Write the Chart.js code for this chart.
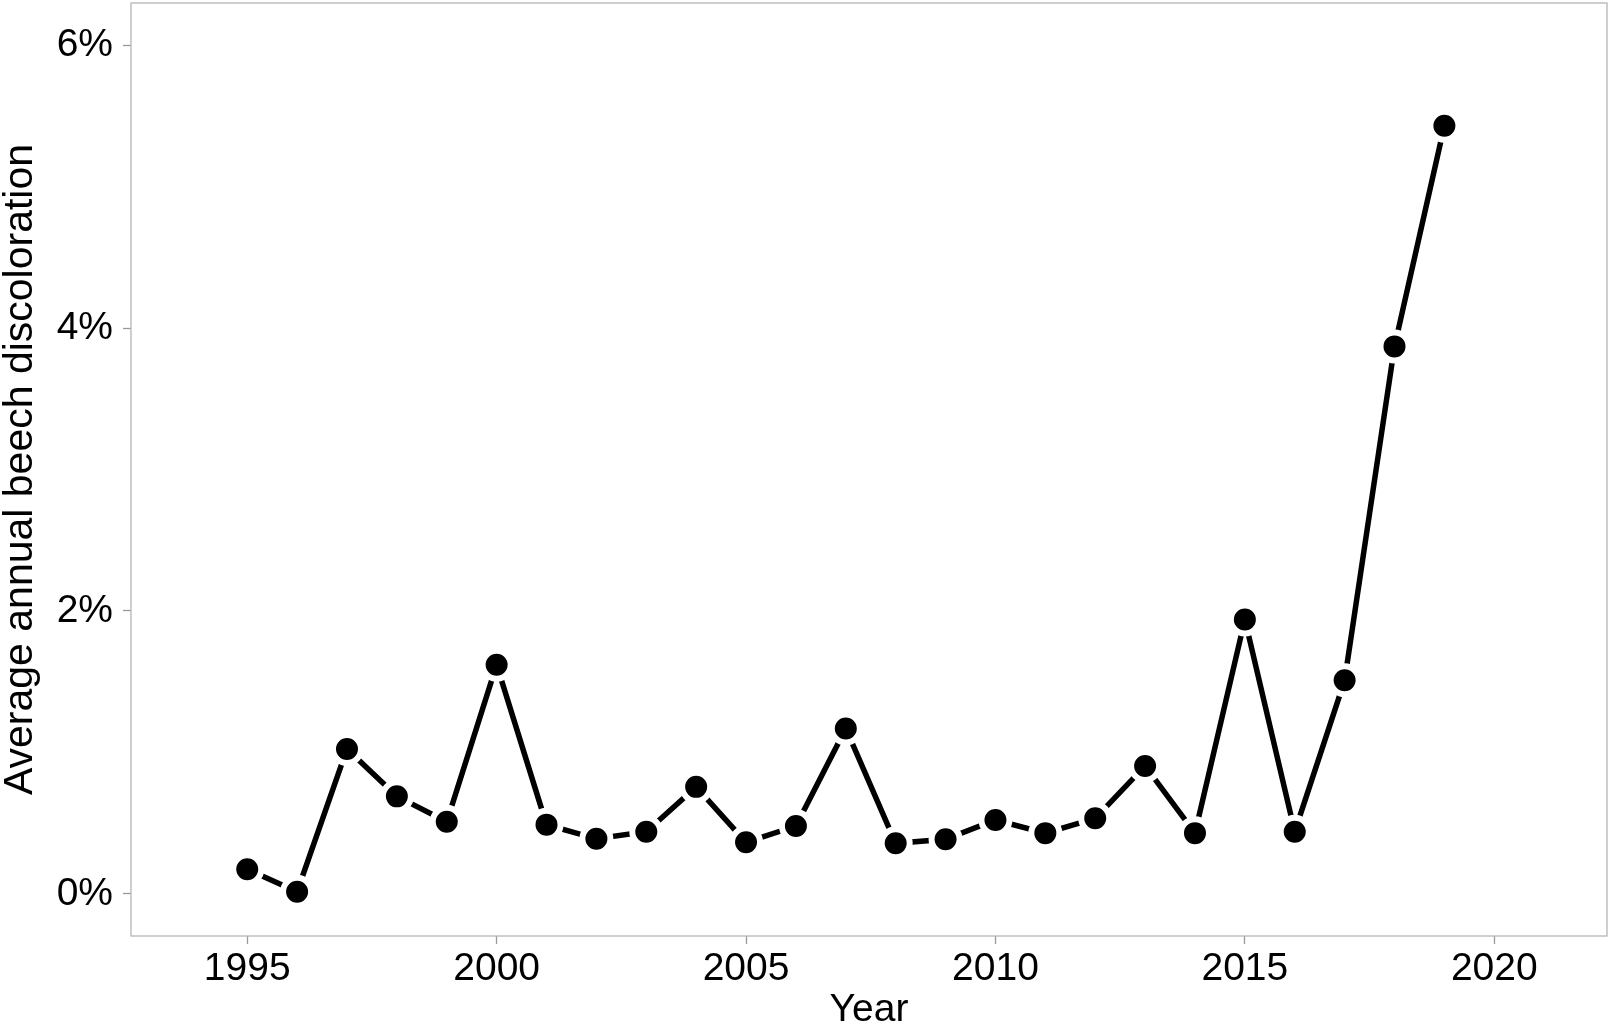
<!DOCTYPE html>
<html>
<head>
<meta charset="utf-8">
<script src="https://cdn.jsdelivr.net/npm/chart.js@4.4.1/dist/chart.umd.min.js"></script>
<style>
  html, body { margin: 0; padding: 0; background: #fff; }
  #wrap { width: 1613px; height: 1032px; position: relative; }
</style>
</head>
<body>
<div id="wrap"><canvas id="discolorationChart"></canvas></div>
<script>
// values (percent)
const years = [1995, 1996, 1997, 1998, 1999, 2000, 2001, 2002, 2003, 2004, 2005, 2006, 2007,
  2008, 2009, 2010, 2011, 2012, 2013, 2014, 2015, 2016, 2017, 2018, 2019];
const discoloration = [0.175, 0.016, 1.025, 0.69, 0.51, 1.62, 0.49, 0.39, 0.44, 0.757, 0.365, 0.48, 1.17,
  0.358, 0.387, 0.523, 0.43, 0.535, 0.905, 0.43, 1.94, 0.44, 1.51, 3.87, 5.43];
const xTicks = [1995, 2000, 2005, 2010, 2015, 2020];
const yTicks = [0, 2, 4, 6];

const FONT = "'Liberation Sans', Arial, Helvetica, sans-serif";

// gray panel border around the whole plot area
const panelBorder = {
  id: 'panelBorder',
  afterDraw(chart) {
    const { ctx, chartArea: a } = chart;
    ctx.save();
    ctx.strokeStyle = '#b5b5b5';
    ctx.lineWidth = 1.3;
    ctx.strokeRect(a.left, a.top, a.right - a.left, a.bottom - a.top);
    ctx.restore();
  }
};

// fixed axis sizes, no extra room for the end labels
function fixSize(prop, size) {
  return (scale) => {
    scale[prop] = size;
    scale.paddingTop = 0;
    scale.paddingBottom = 0;
    scale.paddingLeft = 0;
    scale.paddingRight = 0;
  };
}

document.addEventListener("DOMContentLoaded", function () {
  const ctx = document.getElementById("discolorationChart").getContext("2d");

  new Chart(ctx, {
    type: 'line',
    data: {
      datasets: [{
        label: 'Average annual beech discoloration',
        data: years.map((y, i) => ({ x: y, y: discoloration[i] })),
        borderColor: '#000',
        borderWidth: 5.5,
        pointRadius: 14,
        pointBorderWidth: 6,
        pointBackgroundColor: '#000',
        pointBorderColor: '#fff',
        tension: 0,
        clip: false
      }]
    },
    options: {
      responsive: true,
      maintainAspectRatio: false,
      animation: false,
      layout: { autoPadding: false, padding: { top: 3, right: 6, left: 0, bottom: 0 } },
      plugins: {
        legend: { display: false },
        tooltip: { enabled: false }
      },
      scales: {
        x: {
          type: 'linear',
          min: 1992.67,
          max: 2022.26,
          afterBuildTicks: (scale) => { scale.ticks = xTicks.map(v => ({ value: v })); },
          afterFit: fixSize('height', 96),
          grid: { drawOnChartArea: false, color: '#999', tickLength: 8, tickWidth: 1.3 },
          border: { display: false },
          ticks: {
            color: '#000',
            font: { family: FONT, size: 39 },
            padding: 2,
            maxRotation: 0,
            callback: (v) => String(v)
          },
          title: {
            display: true,
            text: 'Year',
            color: '#000',
            font: { family: FONT, size: 39, lineHeight: 1.1 },
            padding: 0
          }
        },
        y: {
          min: -0.297,
          max: 6.297,
          afterBuildTicks: (scale) => { scale.ticks = yTicks.map(v => ({ value: v })); },
          afterFit: fixSize('width', 131),
          grid: { drawOnChartArea: false, color: '#999', tickLength: 8, tickWidth: 1.3 },
          border: { display: false },
          ticks: {
            color: '#000',
            font: { family: FONT, size: 39 },
            padding: 10,
            callback: (v) => v + '%'
          },
          title: {
            display: true,
            text: 'Average annual beech discoloration',
            color: '#000',
            font: { family: FONT, size: 41, lineHeight: 1.0 },
            padding: 0
          }
        }
      }
    },
    plugins: [panelBorder]
  });
});
</script>
</body>
</html>
